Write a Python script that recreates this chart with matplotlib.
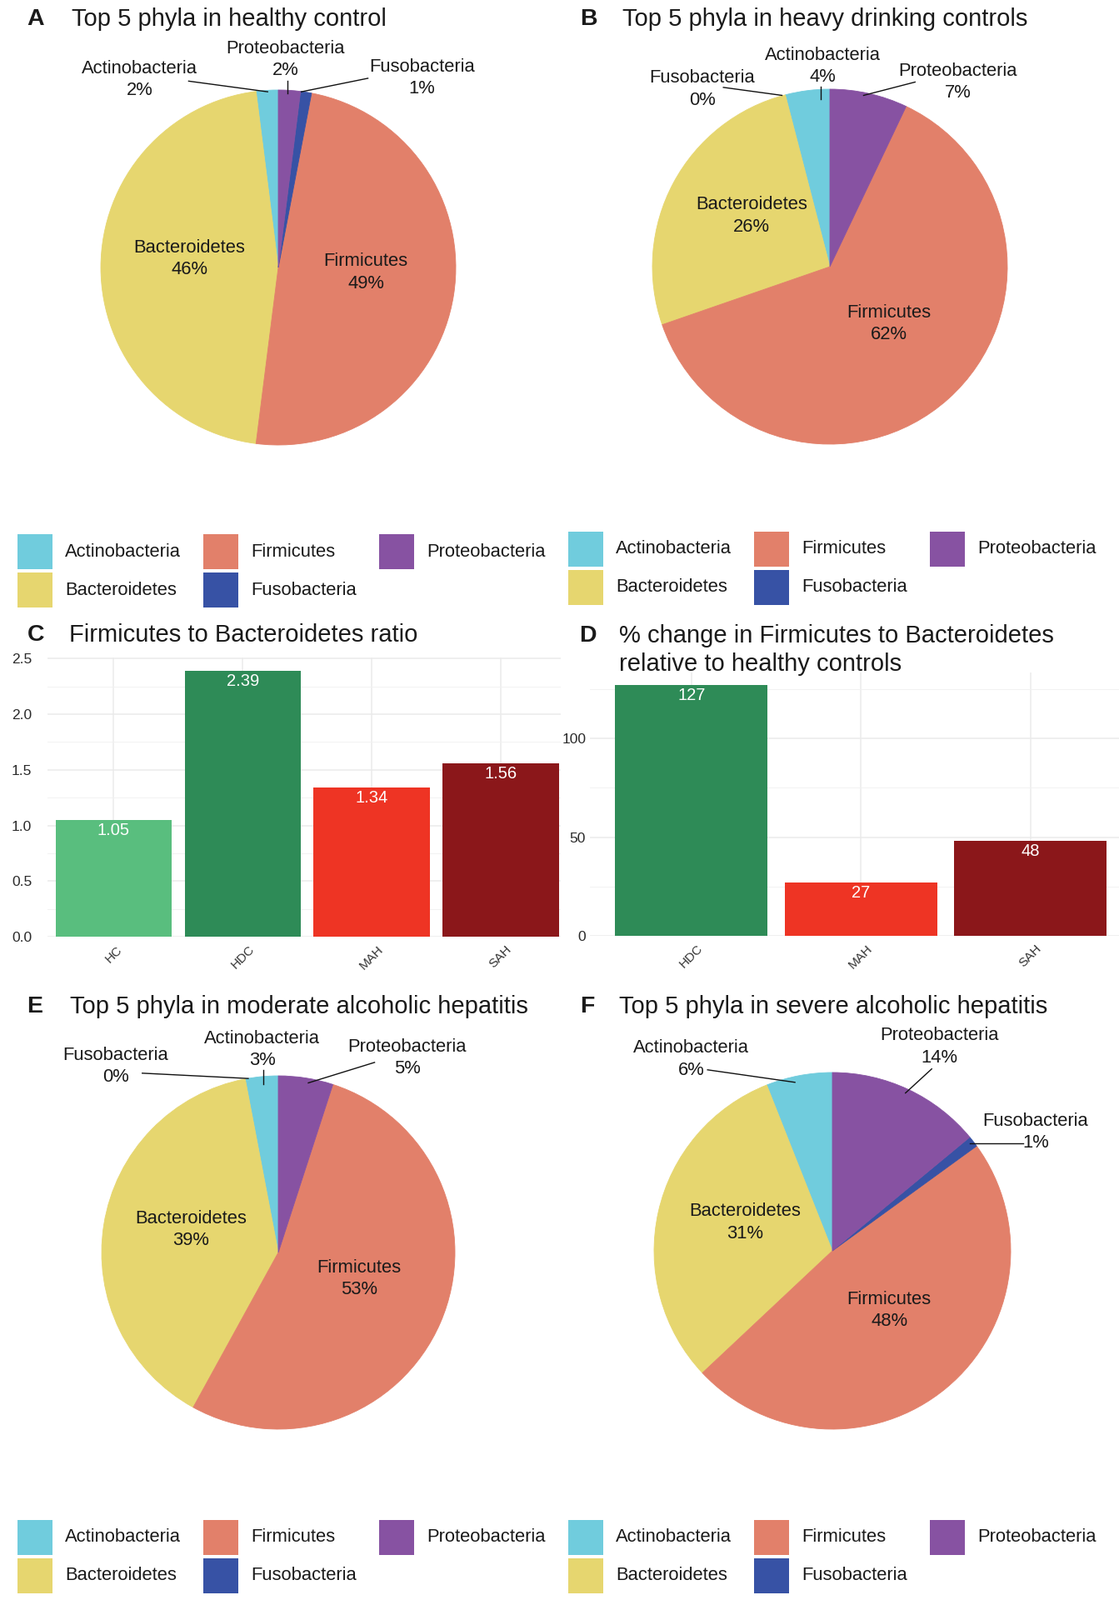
import matplotlib
matplotlib.use('Agg')
import matplotlib.pyplot as plt
from matplotlib.patches import Rectangle
import numpy as np

plt.rcParams['font.family'] = ['Liberation Sans', 'DejaVu Sans']

W, H = 1343, 1920

# phyla shown in every pie (alphabetical, as in the legend)
phyla = ['Actinobacteria', 'Bacteroidetes', 'Firmicutes', 'Fusobacteria', 'Proteobacteria']
phyla_colors = ['#70CCDD', '#E6D66F', '#E2806A', '#3752A5', '#8752A2']

# percentages per group
hc_pct = [2, 46, 49, 1, 2]
hdc_pct = [4, 26, 62, 0, 7]
mah_pct = [3, 39, 53, 0, 5]
sah_pct = [6, 31, 48, 1, 14]

# Firmicutes / Bacteroidetes ratio
ratio_groups = ['HC', 'HDC', 'MAH', 'SAH']
ratio_vals = [1.05, 2.39, 1.34, 1.56]

# % change relative to healthy controls
change_groups = ['HDC', 'MAH', 'SAH']
change_vals = [127, 27, 48]

group_colors = {'HC': '#59BE7E', 'HDC': '#2E8B57', 'MAH': '#EE3424', 'SAH': '#8B171A'}

TXT = '#1a1a1a'
PIE_FS = 15.8


def px_axes(fig, left, top, width, height):
    return fig.add_axes([left / W, 1 - (top + height) / H, width / W, height / H])


def fig_text(fig, x, y, s, **kw):
    kw.setdefault('color', TXT)
    return fig.text(x / W, 1 - y / H, s, **kw)


def panel_title(fig, letter, lx, tx, y, title):
    fig_text(fig, lx, y, letter, fontsize=20.5, fontweight='bold', va='center')
    fig_text(fig, tx, y, title, fontsize=21, va='center')


def draw_pie(fig, cx, cy, r, values, outside):
    """outside: name -> (text_u, text_v, (line x0, y0), (line x1, y1)) in pie units"""
    ax = px_axes(fig, cx - r, cy - r, 2 * r, 2 * r)
    wedges, _ = ax.pie(values, colors=phyla_colors, startangle=90, counterclock=True,
                       wedgeprops=dict(linewidth=0))
    ax.set_aspect('auto')
    ax.set_xlim(-1, 1)
    ax.set_ylim(-1, 1)
    for w, name, val in zip(wedges, phyla, values):
        if val > 0:
            w.set_edgecolor(w.get_facecolor())
            w.set_linewidth(0.6)
        label = f'{name}\n{val}%'
        if name in outside:
            tu, tv, (x0, y0), (x1, y1) = outside[name]
            ax.text(tu, tv, label, ha='center', va='center', fontsize=PIE_FS,
                    linespacing=1.32, color=TXT, clip_on=False)
            ax.plot([x0, x1], [y0, y1], color='#111111', lw=1.0, clip_on=False)
        else:
            mid = np.deg2rad((w.theta1 + w.theta2) / 2)
            ax.text(0.5 * np.cos(mid), 0.5 * np.sin(mid) + 0.05, label, ha='center',
                    va='center', fontsize=PIE_FS, linespacing=1.32, color=TXT)
    return ax


def draw_legend(fig, x0, y0):
    cols = [0, 223, 434]
    for i, (name, col) in enumerate(zip(phyla, phyla_colors)):
        c, rw = divmod(i, 2)
        x = x0 + cols[c]
        y = y0 + rw * 46
        fig.patches.append(Rectangle((x / W, 1 - (y + 42) / H), 42 / W, 42 / H,
                                     transform=fig.transFigure, facecolor=col,
                                     edgecolor='none'))
        fig_text(fig, x + 57, y + 21, name, fontsize=15.8, va='center')


def draw_bars(fig, box, xlim, ylim, groups, vals, fmt, major, minor, ypad):
    ax = px_axes(fig, *box)
    x = np.arange(1, len(groups) + 1)
    ax.bar(x, vals, width=0.9, color=[group_colors[g] for g in groups], zorder=2)
    for xi, v in zip(x, vals):
        ax.annotate(fmt.format(v), (xi, v), xytext=(0, -9), textcoords='offset points',
                    ha='center', va='center', color='white', fontsize=14.5)
    ax.set_xlim(*xlim)
    ax.set_ylim(*ylim)
    ax.set_xticks(x)
    ax.set_xticklabels(groups, rotation=45, ha='center', va='top', fontsize=11,
                       color='#333333')
    ax.set_yticks(major)
    ax.set_yticks(minor, minor=True)
    ax.tick_params(axis='x', length=0, pad=6)
    ax.tick_params(axis='y', which='both', length=0, pad=ypad, labelsize=12.5,
                   labelcolor='#2a2a2a')
    ax.grid(which='major', color='#EBEBEB', lw=1.1)
    ax.grid(which='minor', axis='y', color='#F2F2F2', lw=0.7)
    ax.set_axisbelow(True)
    for s in ax.spines.values():
        s.set_visible(False)
    return ax


fig = plt.figure(figsize=(W / 100, H / 100), dpi=100)

# A
panel_title(fig, 'A', 32, 86, 23, 'Top 5 phyla in healthy control')
draw_pie(fig, 334, 321, 213, hc_pct, {
    'Actinobacteria': (-0.78, 1.06, (-0.505, 1.05), (-0.06, 0.99)),
    'Proteobacteria': (0.04, 1.17, (0.05, 1.05), (0.05, 0.98)),
    'Fusobacteria': (0.81, 1.07, (0.505, 1.066), (0.13, 0.99)),
})
draw_legend(fig, 21, 641)

# B
panel_title(fig, 'B', 696, 747, 23, 'Top 5 phyla in heavy drinking controls')
draw_pie(fig, 996, 320, 213, hdc_pct, {
    'Actinobacteria': (-0.04, 1.13, (-0.05, 1.015), (-0.05, 0.944)),
    'Proteobacteria': (0.72, 1.04, (0.48, 1.04), (0.19, 0.965)),
    'Fusobacteria': (-0.72, 1.0, (-0.60, 1.01), (-0.27, 0.965)),
})
draw_legend(fig, 682, 638)

# C
panel_title(fig, 'C', 33, 83, 762, 'Firmicutes to Bacteroidetes ratio')
draw_bars(fig, (57, 789, 616, 335), (0.487, 4.465), (0, 2.5095),
          ratio_groups, ratio_vals, '{:.2f}',
          [0, 0.5, 1.0, 1.5, 2.0, 2.5], [0.25, 0.75, 1.25, 1.75, 2.25], 13.5)

# D
fig_text(fig, 695, 763, 'D', fontsize=20.5, fontweight='bold', va='center')
fig_text(fig, 743, 763, '% change in Firmicutes to Bacteroidetes', fontsize=21, va='center')
fig_text(fig, 743, 797, 'relative to healthy controls', fontsize=21, va='center')
draw_bars(fig, (708, 807, 635, 316), (0.4, 3.523), (0, 133.35),
          change_groups, change_vals, '{:d}',
          [0, 50, 100], [25, 75, 125], 3.5)

# E
panel_title(fig, 'E', 32, 84, 1208, 'Top 5 phyla in moderate alcoholic hepatitis')
draw_pie(fig, 334, 1503, 212, mah_pct, {
    'Actinobacteria': (-0.09, 1.15, (-0.085, 1.035), (-0.085, 0.955)),
    'Proteobacteria': (0.73, 1.10, (0.545, 1.076), (0.17, 0.96)),
    'Fusobacteria': (-0.92, 1.055, (-0.77, 1.015), (-0.17, 0.985)),
})
draw_legend(fig, 21, 1824)

# F
panel_title(fig, 'F', 696, 743, 1208, 'Top 5 phyla in severe alcoholic hepatitis')
draw_pie(fig, 999, 1501, 214, sah_pct, {
    'Actinobacteria': (-0.79, 1.075, (-0.70, 1.015), (-0.21, 0.945)),
    'Proteobacteria': (0.60, 1.145, (0.557, 1.02), (0.41, 0.885)),
    'Fusobacteria': (1.14, 0.665, (1.07, 0.605), (0.77, 0.605)),
})
draw_legend(fig, 682, 1824)

fig.savefig('out.png', dpi=100)
